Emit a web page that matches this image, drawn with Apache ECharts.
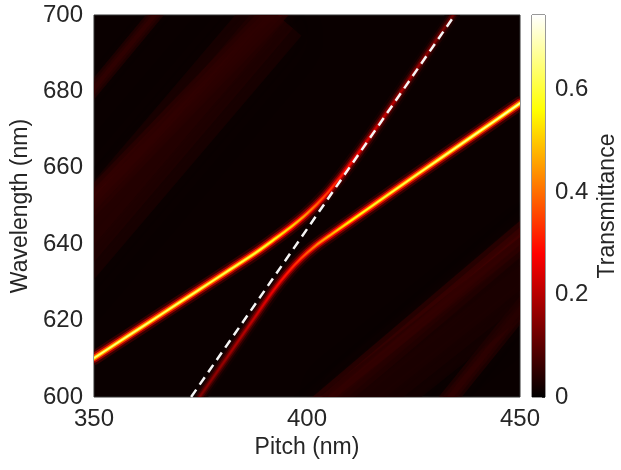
<!DOCTYPE html>
<html>
<head>
<meta charset="utf-8">
<script src="https://cdn.jsdelivr.net/npm/echarts@6/dist/echarts.min.js"></script>
<style>
  html, body { margin: 0; padding: 0; background: #fff; }
  #chart { width: 621px; height: 470px; }
</style>
</head>
<body>
<div id="chart"></div>
<script>
// axis ticks
const xTicks = [350, 400, 450];
const yTicks = [600, 620, 640, 660, 680, 700];
const cbTicks = [0, 0.2, 0.4, 0.6];
const T_MAX = 0.745;

// branch A: flat lower-left band bending up along the light line
const pitchA = [350, 358, 366, 374, 382, 388, 392, 396, 400, 404, 408, 412.4, 417.1, 423.4, 428.8, 434.3];
const waveA  = [610.2, 616.0, 621.8, 627.6, 633.4, 637.8, 641.0, 644.3, 648.0, 652.4, 657.8, 664.4, 671.8, 682.1, 690.9, 700];
const transA = [0.63, 0.62, 0.61, 0.6, 0.59, 0.57, 0.55, 0.5, 0.42, 0.34, 0.29, 0.25, 0.21, 0.17, 0.14, 0.11];

// branch B: steep from the bottom bending into the flat right band
const pitchB = [374.8, 381.0, 387.2, 392.2, 395.5, 398.6, 402.0, 406.0, 410.5, 415.5, 421.0, 428.1, 435.9, 443.7, 450];
const waveB  = [600, 610, 620, 628, 632.6, 636.3, 639.6, 642.8, 646.3, 650.2, 654.5, 660.0, 666.0, 672.0, 676.9];
const transB = [0.13, 0.16, 0.2, 0.25, 0.29, 0.34, 0.41, 0.47, 0.53, 0.56, 0.58, 0.6, 0.62, 0.64, 0.67];

// white dashed light line
const lightPitch = [372.8, 434.7];
const lightWave  = [600, 700];

// faint diffraction bands (start / end)
const bandP0 = [340, 345, 338, 400, 430, 408];
const bandW0 = [640, 674, 628, 594, 595, 594];
const bandP1 = [397, 368, 393, 456, 456, 460];
const bandW1 = [706, 705, 700, 647, 631, 640];
const bandT  = [0.085, 0.06, 0.045, 0.085, 0.06, 0.035];
const bandWidth = [24, 14, 64, 28, 18, 64];

function clamp(v) { return Math.max(0, Math.min(1, v)); }
function hot(v, a) {
  const t = clamp(v / T_MAX);
  const r = Math.round(255 * clamp(t * 8 / 3));
  const g = Math.round(255 * clamp((t - 3 / 8) * 8 / 3));
  const b = Math.round(255 * clamp((t - 0.75) * 4));
  return a == null ? `rgb(${r},${g},${b})` : `rgba(${r},${g},${b},${a})`;
}

function grad(pitch, trans, k) {
  const p0 = pitch[0], p1 = pitch[pitch.length - 1];
  return new echarts.graphic.LinearGradient(0, 0, 1, 0,
    pitch.map((p, i) => ({ offset: (p - p0) / (p1 - p0), color: hot(trans[i] * k) })));
}

const curves = [[pitchA, waveA, transA], [pitchB, waveB, transB]];
const layers = [
  { w: 14, k: 0.12, o: 0.7 },
  { w: 9.5, k: 0.28, o: 0.9 },
  { w: 6, k: 0.55, o: 1 },
  { w: 3.2, k: 0.85, o: 1 },
  { w: 1.4, k: 1.05, o: 1 }
];

const chart = echarts.init(document.getElementById('chart'));
const txt = '#262626';
const font = 'Liberation Sans, Arial, sans-serif';

const series = [
  {
    type: 'custom', coordinateSystem: 'cartesian2d', xAxisIndex: 0, yAxisIndex: 0,
    clip: true, silent: true, z: 1,
    data: bandT.map((t, i) => [bandP0[i], bandW0[i], bandP1[i], bandW1[i], t]),
    renderItem: (params, api) => {
      const a = api.coord([api.value(0), api.value(1)]);
      const b = api.coord([api.value(2), api.value(3)]);
      const dx = b[0] - a[0], dy = b[1] - a[1], L = Math.hypot(dx, dy);
      const nx = -dy / L, ny = dx / L;
      const hw = bandWidth[params.dataIndex] / 2;
      const t = api.value(4);
      return {
        type: 'group',
        children: [1, 0.65, 0.3].map(s => ({
          type: 'polygon',
          shape: { points: [
            [a[0] + nx * hw * s, a[1] + ny * hw * s], [b[0] + nx * hw * s, b[1] + ny * hw * s],
            [b[0] - nx * hw * s, b[1] - ny * hw * s], [a[0] - nx * hw * s, a[1] - ny * hw * s]] },
          style: { fill: hot(t, 0.38), shadowBlur: hw * s, shadowColor: hot(t, 0.38) }
        }))
      };
    }
  },
  {
    type: 'custom', coordinateSystem: 'cartesian2d', xAxisIndex: 0, yAxisIndex: 0,
    clip: true, silent: true, z: 2,
    data: curves.map((c, i) => [c[0][0], c[1][0], i]),
    renderItem: (params, api) => {
      const [p, w, t] = curves[params.dataIndex];
      const pts = p.map((x, i) => api.coord([x, w[i]]));
      return {
        type: 'group',
        children: layers.map(L => ({
          type: 'polyline',
          shape: { points: pts, smooth: 0.3 },
          style: { stroke: grad(p, t, L.k), lineWidth: L.w, opacity: L.o, fill: null, lineCap: 'round' }
        }))
      };
    }
  },
  {
    type: 'line', xAxisIndex: 0, yAxisIndex: 0, symbol: 'none', silent: true, z: 3,
    data: lightPitch.map((x, i) => [x, lightWave[i]]),
    lineStyle: { color: '#f4f4f4', width: 2.5, type: [9, 6] }
  },
  // colour bar
  {
    type: 'bar', xAxisIndex: 1, yAxisIndex: 1, silent: true,
    data: [T_MAX], barWidth: '100%',
    itemStyle: {
      color: new echarts.graphic.LinearGradient(0, 1, 0, 0, [
        { offset: 0, color: hot(0) },
        { offset: 3 / 8, color: hot(T_MAX * 3 / 8) },
        { offset: 6 / 8, color: hot(T_MAX * 6 / 8) },
        { offset: 1, color: hot(T_MAX) }
      ])
    }
  }
];

chart.setOption({
  animation: false,
  textStyle: { fontFamily: font },
  grid: [
    { left: 94, top: 15, width: 426, height: 382, show: true,
      backgroundColor: '#0a0000', borderColor: '#333', borderWidth: 1 },
    { left: 532, top: 15, width: 13, height: 382, show: true,
      borderColor: '#333', borderWidth: 1 }
  ],
  xAxis: [
    { type: 'value', gridIndex: 0, min: xTicks[0], max: xTicks[xTicks.length - 1],
      interval: xTicks[1] - xTicks[0],
      name: 'Pitch (nm)', nameLocation: 'middle', nameGap: 32,
      nameTextStyle: { color: txt, fontSize: 23, fontFamily: font },
      axisLine: { show: false }, axisTick: { show: false }, splitLine: { show: false },
      axisLabel: { color: txt, fontSize: 24, margin: 10, fontFamily: font } },
    { type: 'category', gridIndex: 1, data: ['T'], show: false }
  ],
  yAxis: [
    { type: 'value', gridIndex: 0, min: yTicks[0], max: yTicks[yTicks.length - 1],
      interval: yTicks[1] - yTicks[0],
      name: 'Wavelength (nm)', nameLocation: 'middle', nameGap: 57,
      nameTextStyle: { color: txt, fontSize: 23, fontFamily: font },
      axisLine: { show: false }, axisTick: { show: false }, splitLine: { show: false },
      axisLabel: { color: txt, fontSize: 24, margin: 11, fontFamily: font } },
    { type: 'value', gridIndex: 1, position: 'right', min: 0, max: T_MAX,
      interval: cbTicks[1] - cbTicks[0],
      name: 'Transmittance', nameLocation: 'middle', nameGap: 51, nameRotate: 90,
      nameTextStyle: { color: txt, fontSize: 23, fontFamily: font },
      axisLine: { show: false }, splitLine: { show: false },
      axisTick: { show: true, inside: true, length: 3, lineStyle: { color: '#333' } },
      axisLabel: { color: txt, fontSize: 24, margin: 10, showMaxLabel: false, fontFamily: font,
        formatter: v => (v === 0 ? '0' : v.toFixed(1)) } }
  ],
  series: series
});
</script>
</body>
</html>
